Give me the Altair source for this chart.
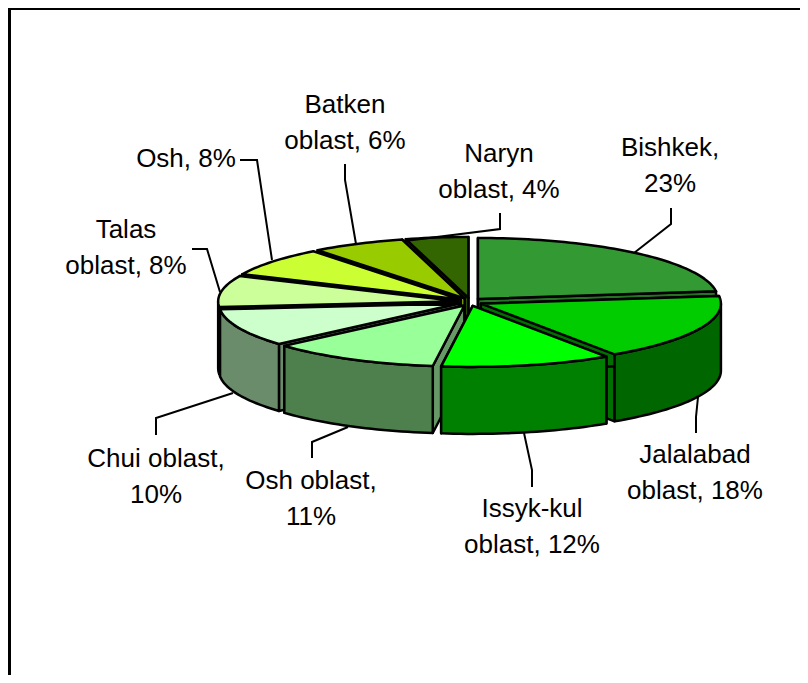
import math
import altair as alt

# ---- chart values -------------------------------------------------------
regions = ["Bishkek", "Jalalabad oblast", "Issyk-kul oblast", "Osh oblast", "Chui oblast",
           "Talas oblast", "Osh", "Batken oblast", "Naryn oblast"]
shares = [23, 17.6, 11.5, 11.4, 10, 8.3, 7.7, 6.3, 4.2]
top_colors = ["#339933", "#00CC00", "#00FF00", "#99FF99", "#CCFFCC",
              "#CCFF99", "#CCFF33", "#99CC00", "#336600"]
rim_colors = ["#267326", "#006600", "#008000", "#4D804D", "#6B8C6B",
              "#99BF73", "#99BF26", "#739900", "#264D00"]
cut_colors = ["#267326", "#007000", "#008000", "#669966", "#6B8C6B",
              "#99BF73", "#99BF26", "#739900", "#264D00"]
paint_order = [8, 7, 6, 5, 0, 4, 1, 3, 2]

label_lines = [["Bishkek,", "23%"], ["Jalalabad", "oblast, 18%"], ["Issyk-kul", "oblast, 12%"],
               ["Osh oblast,", "11%"], ["Chui oblast,", "10%"], ["Talas", "oblast, 8%"],
               ["Osh, 8%"], ["Batken", "oblast, 6%"], ["Naryn", "oblast, 4%"]]
label_x = [670, 695, 532, 311, 156, 126, 186, 345, 499]
label_y = [156, 463, 517, 489, 467, 238, 167, 113, 162]
leaders = [[(634, 253), (671, 224), (671, 208)],
           [(698, 397), (696, 417), (696, 433)],
           [(524, 433), (532, 470), (532, 487)],
           [(348, 427), (312, 442), (312, 458)],
           [(233, 393), (156, 418), (156, 435)],
           [(220, 292), (207, 249), (192, 249)],
           [(272, 260), (257, 160), (240, 160)],
           [(356, 244), (345, 180), (345, 164)],
           [(405, 241), (500, 229), (500, 213)]]
frame = [(9.5, 690), (9.5, 8.5), (815, 8.5)]

# ---- projected pie geometry ---------------------------------------------
CX, CY, RX, RY, DEPTH, EX, EY = 470, 302, 240, 61, 67, 12, 4
STEP = 1.5
W, H = 792, 667


def rim(a0, a1, ax, ay, dz=0):
    n = max(1, int(abs(a1 - a0) / STEP))
    out = []
    for i in range(n + 1):
        a = math.radians(a0 + (a1 - a0) * i / n)
        out.append([ax + RX * math.sin(a), ay - RY * math.cos(a) + dz])
    return out


def feature(ring, fill):
    return {"type": "Feature", "properties": {"fill": fill},
            "geometry": {"type": "Polygon", "coordinates": [ring + [ring[0]]]}}


starts, total = [], 0
for s in shares:
    starts.append(total)
    total += s

features = []
for k in paint_order:
    a0 = starts[k] * 3.6
    a1 = (starts[k] + shares[k]) * 3.6
    mid = math.radians((a0 + a1) / 2)
    ax = CX + EX * math.sin(mid)
    ay = CY - EY * math.cos(mid)
    for a in (a1, a0):
        p = rim(a, a, ax, ay)[0]
        features.append(feature([[ax, ay], p, [p[0], p[1] + DEPTH], [ax, ay + DEPTH]], cut_colors[k]))
    lo, hi = max(a0, 90), min(a1, 270)
    if hi > lo:
        upper = rim(lo, hi, ax, ay)
        lower = rim(hi, lo, ax, ay, DEPTH)
        features.append(feature(upper + lower, rim_colors[k]))
    features.append(feature([[ax, ay]] + rim(a0, a1, ax, ay), top_colors[k]))

pie = (
    alt.Chart(alt.Data(values=features))
    .mark_geoshape(stroke="black", strokeWidth=2.5, strokeJoin="round")
    .encode(fill=alt.Fill("properties.fill:N", scale=None, legend=None))
    .project(type="identity", scale=1, translate=[-8, -8])
)

# ---- scales shared by leaders and labels ---------------------------------
X = alt.X("x:Q", scale=alt.Scale(domain=[8, 8 + W], range=[0, W]), axis=None)
Y = alt.Y("y:Q", scale=alt.Scale(domain=[8, 8 + H], range=[0, H]), axis=None)

leader_rows = [{"k": regions[i], "o": j, "x": p[0], "y": p[1]}
               for i, path in enumerate(leaders) for j, p in enumerate(path)]
leader_layer = alt.Chart(alt.Data(values=leader_rows)).mark_line(
    color="black", strokeWidth=2, strokeJoin="miter"
).encode(x=X, y=Y, detail="k:N", order="o:Q")

frame_rows = [{"o": j, "x": p[0], "y": p[1]} for j, p in enumerate(frame)]
frame_layer = alt.Chart(alt.Data(values=frame_rows)).mark_line(
    color="black", strokeWidth=3, clip=True
).encode(x=X, y=Y, order="o:Q")

label_rows = []
for i, lines in enumerate(label_lines):
    for j, t in enumerate(lines):
        label_rows.append({"x": label_x[i], "y": label_y[i] + 36 * j, "t": t})
text_layer = alt.Chart(alt.Data(values=label_rows)).mark_text(
    font="Liberation Sans", fontSize=26, color="black", align="center", baseline="alphabetic"
).encode(x=X, y=Y, text="t:N")

chart = (
    alt.layer(frame_layer, pie, leader_layer, text_layer)
    .resolve_scale(x="shared", y="shared")
    .properties(width=W, height=H, padding=0, autosize=alt.AutoSizeParams(type="none"),
                background="white")
    .configure_view(stroke=None)
)

chart.save("out.html", embed_options={"renderer": "svg", "actions": False})
